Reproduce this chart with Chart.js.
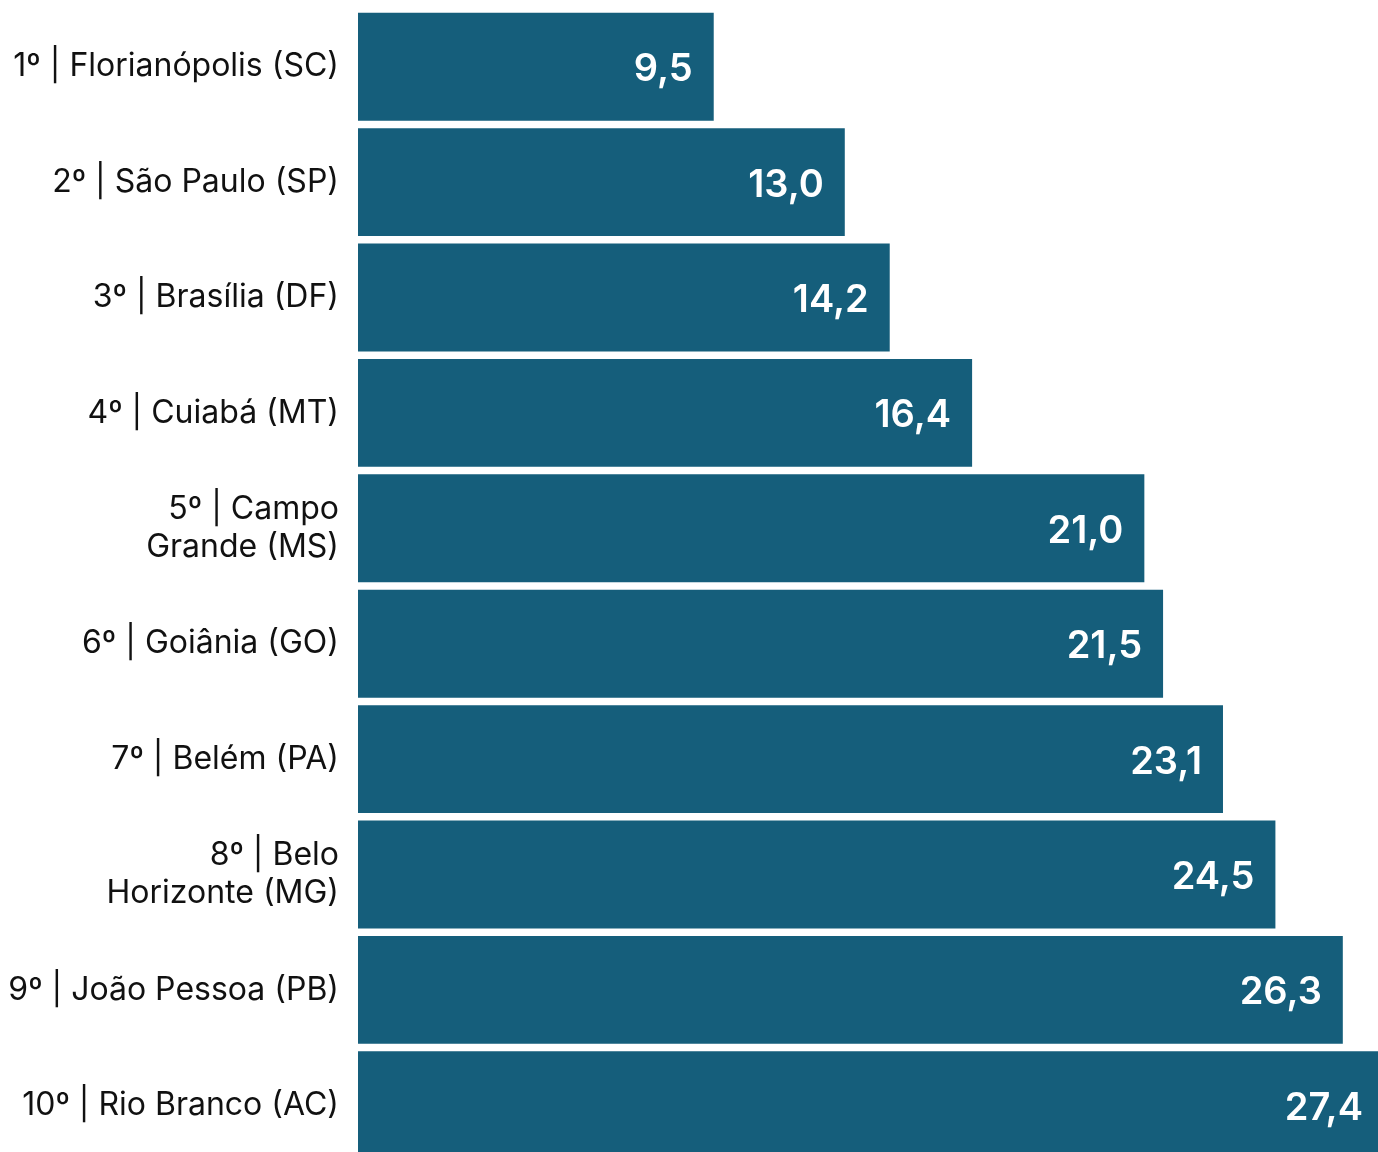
<!DOCTYPE html>
<html>
<head>
<meta charset="utf-8">
<script src="https://cdn.jsdelivr.net/npm/chart.js@4/dist/chart.umd.min.js"></script>
<style>
  body { margin: 0; background: #fff; }
  #wrap { width: 1378px; height: 1152px; overflow: hidden; }
</style>
</head>
<body>
<div id="wrap"><canvas id="ranking" width="1384" height="1163"></canvas></div>
<script>
// categories (multi-line where the original wraps)
const cities = [
  '1º | Florianópolis (SC)',
  '2º | São Paulo (SP)',
  '3º | Brasília (DF)',
  '4º | Cuiabá (MT)',
  ['5º | Campo', 'Grande (MS)'],
  '6º | Goiânia (GO)',
  '7º | Belém (PA)',
  ['8º | Belo', 'Horizonte (MG)'],
  '9º | João Pessoa (PB)',
  '10º | Rio Branco (AC)'
];
const values = [9.5, 13.0, 14.2, 16.4, 21.0, 21.5, 23.1, 24.5, 26.3, 27.4];

const barColor = '#155e7b';

// draw the value inside the end of each bar
const valueLabels = {
  id: 'valueLabels',
  afterDatasetsDraw(chart) {
    const ctx = chart.ctx;
    const meta = chart.getDatasetMeta(0);
    ctx.save();
    ctx.font = '600 38px Inter';
    ctx.fillStyle = '#ffffff';
    ctx.textAlign = 'right';
    ctx.textBaseline = 'middle';
    meta.data.forEach((bar, i) => {
      const txt = values[i].toFixed(1).replace('.', ',');
      ctx.fillText(txt, bar.x - 21, bar.y + 3);
    });
    ctx.restore();
  }
};

const ctx = document.getElementById('ranking').getContext('2d');
new Chart(ctx, {
  type: 'bar',
  data: {
    labels: cities,
    datasets: [{
      data: values,
      backgroundColor: barColor,
      borderWidth: 0,
      categoryPercentage: 1,
      barPercentage: 0.935
    }]
  },
  options: {
    indexAxis: 'y',
    responsive: false,
    animation: false,
    layout: { padding: { top: 9 } },
    plugins: {
      legend: { display: false },
      tooltip: { enabled: false }
    },
    scales: {
      x: {
        display: false,
        min: 0,
        max: 27.4
      },
      y: {
        grid: { display: false, drawTicks: false, tickLength: 0 },
        border: { display: false },
        afterFit(scale) {
          scale.width = 358;
          // no extra room above/below for the first and last label
          scale.paddingTop = 0;
          scale.paddingBottom = 0;
        },
        ticks: {
          padding: 19,
          color: '#111111',
          font: { family: 'Inter', size: 32, lineHeight: 1.2 }
        }
      }
    }
  },
  plugins: [valueLabels]
});
</script>
</body>
</html>
